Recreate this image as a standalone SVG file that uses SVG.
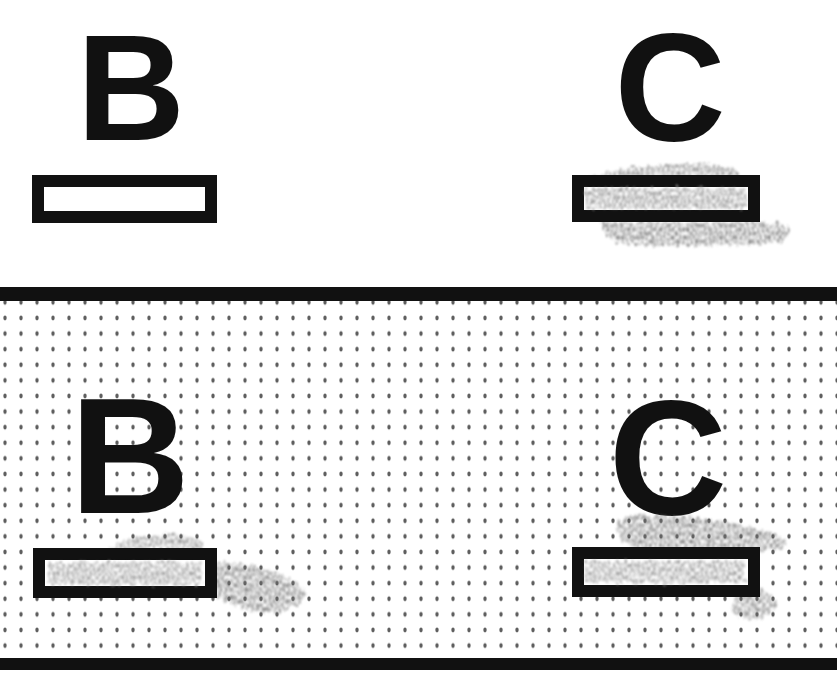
<svg xmlns="http://www.w3.org/2000/svg" width="837" height="697" viewBox="0 0 837 697">
  <style>
    .letter { font-family: "Liberation Sans", Arial, sans-serif; font-weight: bold; fill: #111; text-anchor: middle; }
    .box { fill: #fff; stroke: #111; stroke-width: 12; }
    .rule { stroke: #111; fill: none; }
    .smudge { fill: #6e6e6e; filter: url(#rough); }
    .smudge-in { fill: #8a8a8a; filter: url(#rough); }
  </style>
  <defs>
    <pattern id="dots" x="5" y="318" width="16" height="15.6" patternUnits="userSpaceOnUse">
      <ellipse cx="0" cy="0" rx="1.7" ry="2.4" fill="#5e5e5e"/>
      <ellipse cx="16" cy="0" rx="1.7" ry="2.4" fill="#5e5e5e"/>
      <ellipse cx="0" cy="15.6" rx="1.7" ry="2.4" fill="#5e5e5e"/>
      <ellipse cx="16" cy="15.6" rx="1.7" ry="2.4" fill="#5e5e5e"/>
    </pattern>
    <filter id="rough" x="-20%" y="-60%" width="140%" height="220%">
      <feTurbulence type="fractalNoise" baseFrequency="0.25 0.1" numOctaves="2" seed="3" result="n"/>
      <feDisplacementMap in="SourceGraphic" in2="n" scale="10" xChannelSelector="R" yChannelSelector="G" result="d"/>
      <feTurbulence type="fractalNoise" baseFrequency="0.6 0.25" numOctaves="2" seed="7" result="g"/>
      <feColorMatrix in="g" type="matrix" values="0 0 0 0 0  0 0 0 0 0  0 0 0 0 0  0 0 0 2.6 -0.9" result="ga"/>
      <feComposite in="d" in2="ga" operator="in" result="t"/>
      <feGaussianBlur in="t" stdDeviation="0.9"/>
    </filter>
  </defs>

  <rect width="837" height="697" fill="#fff"/>

  <!-- dotted band -->
  <g id="band">
    <rect x="0" y="301" width="837" height="357" fill="url(#dots)"/>
  </g>

  <!-- rules -->
  <g id="rules">
    <line class="rule" x1="0" y1="294" x2="837" y2="294" stroke-width="14"/>
    <line class="rule" x1="0" y1="664" x2="837" y2="664" stroke-width="12"/>
  </g>

  <!-- upper B -->
  <g id="upper-B">
    <text class="letter" x="131" y="140" font-size="150">B</text>
    <rect class="box" x="38" y="181" width="173" height="36"/>
  </g>

  <!-- upper C -->
  <g id="upper-C">
    <text class="letter" x="670" y="141" font-size="154">C</text>
    <path class="smudge" opacity="0.8" d="M590,177 C610,168 650,164 700,164 C725,165 738,169 740,177 Z"/>
    <path class="smudge" opacity="0.85" d="M600,222 L770,222 C790,224 795,232 785,240 C760,246 690,247 630,245 C610,243 602,234 600,222 Z"/>
    <rect class="box" x="578" y="181" width="176" height="35"/>
    <rect class="smudge-in" opacity="0.9" x="586" y="188" width="160" height="21"/>
  </g>

  <!-- lower B -->
  <g id="lower-B">
    <text class="letter" x="130" y="513" font-size="166">B</text>
    <path class="smudge" opacity="0.75" d="M110,549 C120,538 150,533 185,535 C200,538 205,544 200,549 Z"/>
    <path class="smudge" opacity="0.85" d="M214,562 C240,560 275,570 300,585 C310,595 300,608 280,612 C255,614 232,606 216,596 Z"/>
    <rect class="box" x="39" y="554" width="172" height="38"/>
    <rect class="smudge-in" opacity="0.85" x="48" y="562" width="154" height="23"/>
  </g>

  <!-- lower C -->
  <g id="lower-C">
    <text class="letter" x="668" y="514" font-size="164">C</text>
    <path class="smudge" opacity="0.85" d="M620,520 C650,510 700,516 740,525 C770,532 790,538 788,548 C760,552 700,550 640,549 C620,545 612,530 620,520 Z"/>
    <path class="smudge" opacity="0.8" d="M740,585 C760,585 780,595 775,610 C765,622 740,622 730,612 Z"/>
    <rect class="box" x="578" y="553" width="176" height="38"/>
    <rect class="smudge-in" opacity="0.85" x="586" y="561" width="160" height="22"/>
  </g>
</svg>
